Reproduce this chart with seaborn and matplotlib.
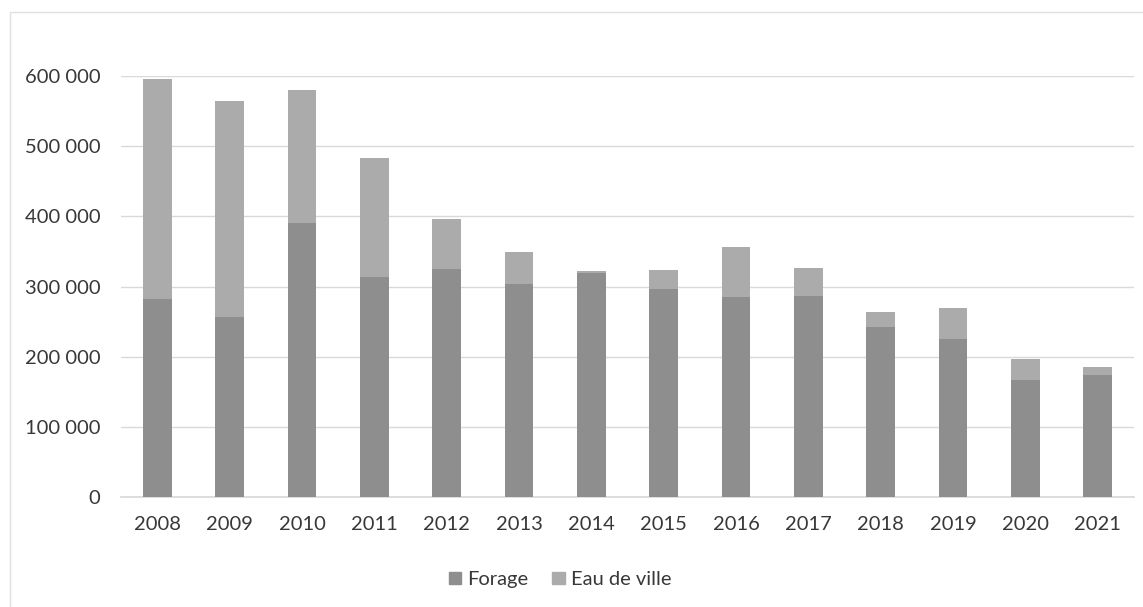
import pandas as pd
import matplotlib.pyplot as plt
import seaborn as sns
from matplotlib.ticker import FuncFormatter
from matplotlib.patches import Patch

# values (m3)
years = ['2008', '2009', '2010', '2011', '2012', '2013', '2014',
         '2015', '2016', '2017', '2018', '2019', '2020', '2021']
forage = [282000, 256000, 391000, 314000, 325000, 304000, 320000,
          296000, 285000, 286000, 242000, 225000, 167000, 173000]
eau_ville = [314000, 309000, 189000, 169000, 72000, 46000, 2000,
             27000, 72000, 41000, 21000, 45000, 29000, 12000]

df = pd.DataFrame({'annee': years, 'Forage': forage, 'Eau de ville': eau_ville})
df['total'] = df['Forage'] + df['Eau de ville']

sns.set_theme(style='white')
plt.rcParams['font.family'] = ['Lato', 'DejaVu Sans']

c_forage = '#8e8e8e'
c_eau = '#ababab'
txt = '#383838'

fig = plt.figure(figsize=(11.43, 6.07), dpi=100)
ax = fig.add_axes([0.106, 0.182, 0.886, 0.692])

# stacked: draw total first, then forage over it
sns.barplot(data=df, x='annee', y='total', color=c_eau, width=0.4,
            saturation=1, linewidth=0, ax=ax, zorder=2)
sns.barplot(data=df, x='annee', y='Forage', color=c_forage, width=0.4,
            saturation=1, linewidth=0, ax=ax, zorder=3)

ax.set_ylim(0, 600000)
ax.set_xlim(-0.5, len(years) - 0.5)
ax.set_yticks(range(0, 600001, 100000))
ax.yaxis.set_major_formatter(FuncFormatter(lambda v, p: f'{int(v):,}'.replace(',', ' ')))
ax.grid(axis='y', color='#d9d9d9', linewidth=1, zorder=0)
ax.set_axisbelow(True)
for s in ['top', 'right', 'left']:
    ax.spines[s].set_visible(False)
ax.spines['bottom'].set_color('#d9d9d9')
ax.set_xlabel('')
ax.set_ylabel('')
ax.tick_params(axis='both', length=0, labelsize=14.5, colors=txt)
ax.tick_params(axis='x', pad=14)
ax.tick_params(axis='y', pad=15)

handles = [Patch(color=c_forage, label='Forage'), Patch(color=c_eau, label='Eau de ville')]
fig.legend(handles=handles, loc='center', bbox_to_anchor=(0.49, 0.045), ncol=2,
           frameon=False, fontsize=14.5, handlelength=0.6, handleheight=0.6,
           handletextpad=0.3, columnspacing=1.2, labelcolor=txt)

# light frame of the chart area
fig.patches.append(plt.Rectangle((0.009, -0.01), 0.995, 0.99, transform=fig.transFigure,
                                 fill=False, edgecolor='#e0e0e0', linewidth=1))

fig.savefig('out.png', dpi=100)
